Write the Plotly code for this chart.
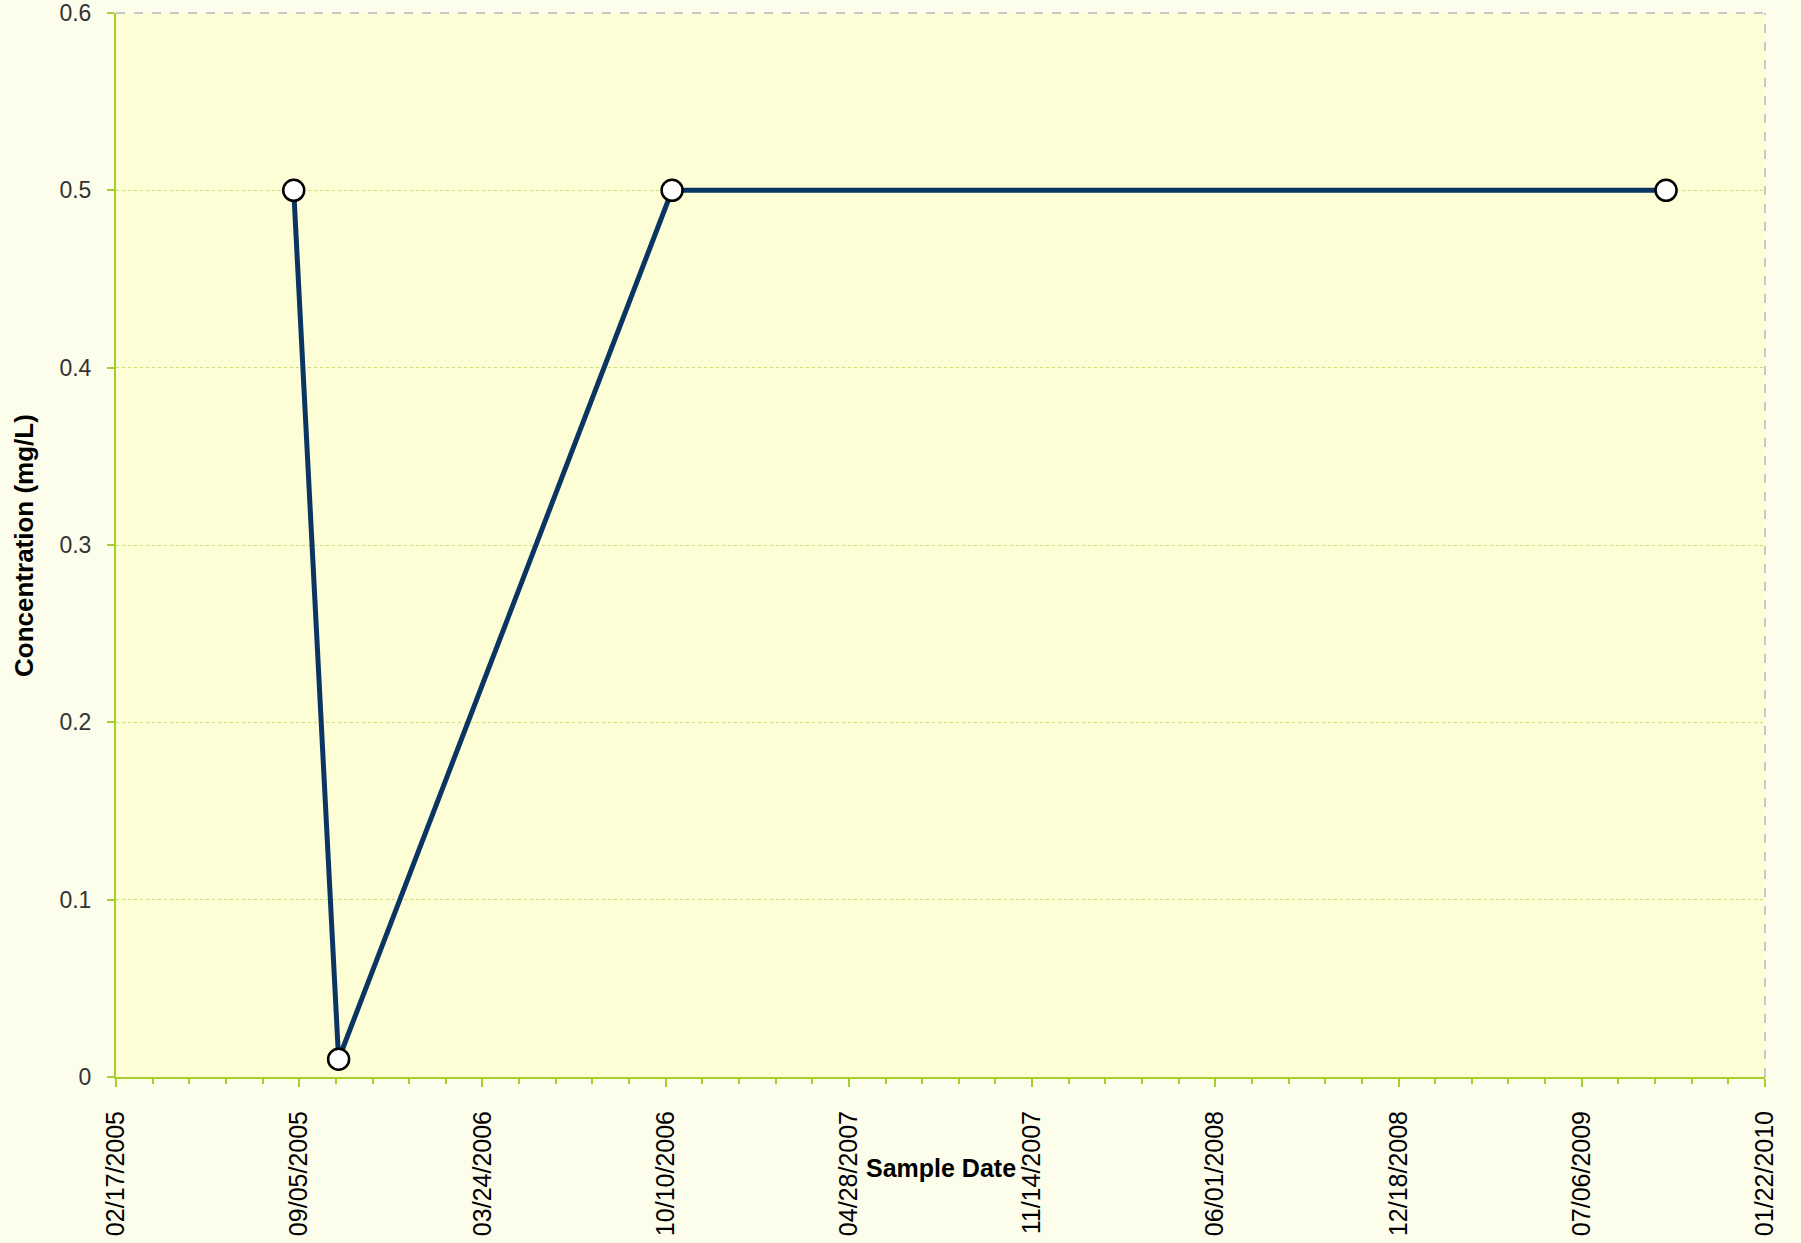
import plotly.graph_objects as go

# Data
sample_dates = ["2005-08-30", "2005-10-18", "2006-10-17", "2009-10-06"]
concentration = [0.5, 0.01, 0.5, 0.5]

x_range = ["2005-02-17", "2010-01-22"]
y_range = [0, 0.6]
y_ticks = [0, 0.1, 0.2, 0.3, 0.4, 0.5, 0.6]
y_ticktext = ["0", "0.1", "0.2", "0.3", "0.4", "0.5", "0.6"]

DAY_MS = 86400000
AXIS_GREEN = "#a6cf2e"
FONT = "Liberation Sans, Arial, sans-serif"

fig = go.Figure()
fig.add_trace(go.Scatter(
    x=sample_dates, y=concentration,
    mode="lines+markers",
    line=dict(color="#0a3563", width=5),
    marker=dict(symbol="circle", size=21, color="white",
                line=dict(color="black", width=2.5)),
    showlegend=False,
    cliponaxis=False,
))

fig.update_layout(
    width=1801, height=1243,
    margin=dict(l=116, r=36, t=13, b=166, autoexpand=False),
    paper_bgcolor="#fdfdec",
    plot_bgcolor="#fdfdd6",
    font=dict(family=FONT, color="#000000"),
    xaxis=dict(
        type="date",
        range=x_range,
        tick0=x_range[0],
        dtick=200 * DAY_MS,
        tickformat="%m/%d/%Y",
        tickangle=-90,
        tickfont=dict(size=25, color="#000000", family=FONT),
        ticks="outside", ticklen=8, tickwidth=2, tickcolor=AXIS_GREEN,
        minor=dict(tick0=x_range[0], dtick=40 * DAY_MS, ticks="outside",
                   ticklen=5, tickwidth=1.5, tickcolor=AXIS_GREEN, showgrid=False),
        showline=True, linecolor=AXIS_GREEN, linewidth=2,
        showgrid=False, zeroline=False,
        ticklabelstandoff=14,
        automargin=False,
    ),
    yaxis=dict(
        range=y_range,
        tickvals=y_ticks, ticktext=y_ticktext,
        tickfont=dict(size=23, color="#333333", family=FONT),
        ticks="outside", ticklen=7, tickwidth=1.5, tickcolor=AXIS_GREEN,
        showline=True, linecolor=AXIS_GREEN, linewidth=2,
        showgrid=True, gridcolor="#c9e07a", gridwidth=1, griddash="dot",
        zeroline=False,
        ticklabelstandoff=11,
        automargin=False,
    ),
    shapes=[
        dict(type="line", xref="paper", yref="paper", x0=0, x1=1, y0=1, y1=1,
             line=dict(color="#c8c8c8", width=2, dash="dash")),
        dict(type="line", xref="paper", yref="paper", x0=1, x1=1, y0=0, y1=1,
             line=dict(color="#c8c8c8", width=2, dash="dash")),
    ],
    annotations=[
        dict(text="<b>Sample Date</b>", xref="paper", yref="paper",
             x=0.5, y=-0.0855, xanchor="center", yanchor="middle",
             showarrow=False, font=dict(size=25, family=FONT, color="#000000")),
        dict(text="<b>Concentration (mg/L)</b>", xref="paper", yref="paper",
             x=-0.0558, y=0.5, xanchor="center", yanchor="middle", textangle=-90,
             showarrow=False, font=dict(size=26, family=FONT, color="#000000")),
    ],
)

fig.write_html(
    "out.html",
    config={"displayModeBar": False},
    post_script="document.body.style.margin='0';document.body.style.background='#fdfdec';",
)
